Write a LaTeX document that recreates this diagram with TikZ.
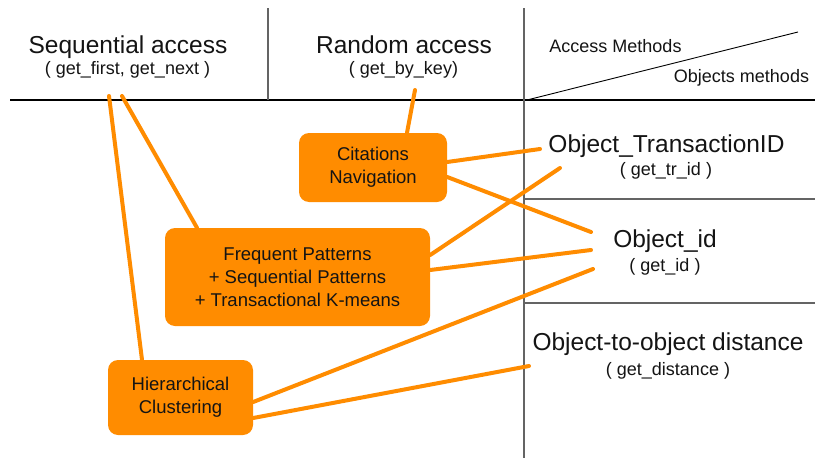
\documentclass[tikz,border=0pt]{standalone}
\usepackage{fontspec}
\setmainfont{Liberation Sans}
\definecolor{boxorange}{RGB}{255,140,0}
\definecolor{ink}{RGB}{20,20,20}
\definecolor{rulegray}{RGB}{100,100,100}
\begin{document}
\begin{tikzpicture}[x=1pt,y=-1pt,
  big/.style={font=\fontsize{24.5}{28}\selectfont, text=ink, anchor=base, inner sep=0pt},
  small/.style={font=\fontsize{18}{22}\selectfont, text=ink, anchor=base, inner sep=0pt},
  box/.style={fill=boxorange, rounded corners=10pt, align=center,
    font=\fontsize{18.5}{23}\selectfont, text=ink, inner sep=0pt},
  link/.style={draw=boxorange, line width=4pt, line cap=round},
  rule/.style={draw=black, line width=1.2pt},
  grayrule/.style={draw=rulegray, line width=1.4pt}
]
\fill[white] (0,0) rectangle (815,458);
\useasboundingbox (0,0) rectangle (815,458);

% table frame
\draw[rule] (10,100) -- (815,100);
\draw[grayrule] (268,8) -- (268,100);
\draw[grayrule] (524,8) -- (524,458);
\draw[grayrule] (524,199) -- (815,199);
\draw[grayrule] (524,303) -- (815,303);
\draw[draw=black, line width=0.9pt] (527,100) -- (798,32);

% column headers
\node[big]   (seq)    at (128,53)   {Sequential access};
\node[small] (seqm)   at (127.5,74) {( get\_first, get\_next )};
\node[big]   (rnd)    at (404,53)   {Random access};
\node[small] (rndm)   at (403.5,74) {( get\_by\_key)};
\node[small] (accm)   at (615.5,52) {Access Methods};
\node[small] (objm)   at (741.5,82) {Objects methods};

% row headers
\node[big]   (trid)   at (666.5,152) {Object\_TransactionID};
\node[small] (tridm)  at (666,175)   {( get\_tr\_id )};
\node[big]   (oid)    at (665,247.5) {Object\_id};
\node[small] (oidm)   at (665,271.5) {( get\_id )};
\node[big]   (odist)  at (668,350.5) {Object-to-object distance};
\node[small] (odistm) at (668,375)   {( get\_distance )};

% connector anchors beside the row headers
\coordinate (trA)  at (540,149);
\coordinate (trB)  at (560,168);
\coordinate (idA)  at (591,232);
\coordinate (idB)  at (591,250);
\coordinate (idC)  at (593,269);
\coordinate (dstA) at (529,366);
\coordinate (seqA) at (109,96);
\coordinate (seqB) at (122,96);
\coordinate (rndA) at (415,90);

% algorithm boxes
\node[box, minimum width=148pt, minimum height=69pt] (cit)  at (373,167.5)
  {Citations\\Navigation};
\node[box, minimum width=265pt, minimum height=98pt] (freq) at (297.5,277)
  {Frequent Patterns\\+ Sequential Patterns\\+ Transactional K-means};
\node[box, minimum width=145pt, minimum height=75pt] (hier) at (180.5,397.5)
  {Hierarchical\\Clustering};

% links
\draw[link] (seqA) -- ([xshift=-38.5pt]hier.north);
\draw[link] (seqB) -- ([xshift=-100.5pt]freq.north);
\draw[link] (rndA) -- ([xshift=34pt]cit.north);
\draw[link] ([yshift=5.5pt]cit.east) -- (trA);
\draw[link] ([yshift=-9.5pt]cit.east) -- (idA);
\draw[link] ([yshift=22pt]freq.east) -- (trB);
\draw[link] ([yshift=7pt]freq.east) -- (idB);
\draw[link] ([yshift=-4.5pt]hier.east) -- (idC);
\draw[link] ([yshift=-20.5pt]hier.east) -- (dstA);
\end{tikzpicture}
\end{document}
